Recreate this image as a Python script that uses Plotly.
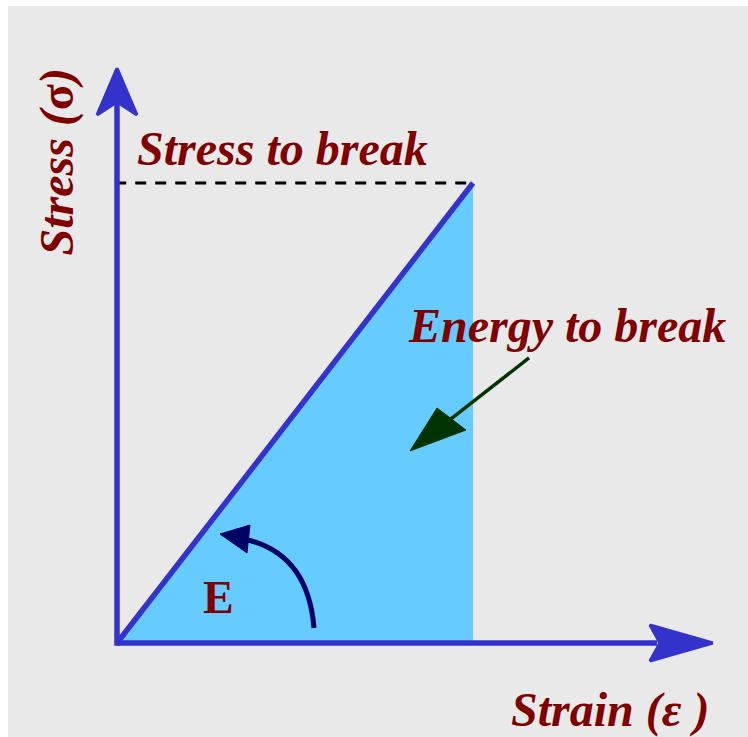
import plotly.graph_objects as go

# ---- data (normalized strain / stress units) ----
strain_break = 1.0
stress_break = 1.0
origin = [0.0, 0.0]

# axis extents
strain_axis_end = 1.497      # where x-arrow head begins
stress_axis_end = 1.148      # where y-arrow head begins
x_head_s = [1.674, 1.497, 1.525, 1.497, 1.674]
x_head_t = [0.0, 0.039, 0.0, -0.039, 0.0]
y_head_s = [0.0, 0.056, 0.0, -0.056, 0.0]
y_head_t = [1.25, 1.148, 1.176, 1.148, 1.25]

# triangle "energy to break"
fill_s = [0.0, strain_break, strain_break, 0.0]
fill_t = [0.0, stress_break, 0.0, 0.0]

# modulus arc arrow
arc_path = "M 0.5534,0.0326 Q 0.5365,0.1913 0.3680,0.2239"
arc_head_s = [0.2893, 0.3736, 0.3652, 0.2893]
arc_head_t = [0.2370, 0.2565, 0.1957, 0.2370]

# energy pointer arrow
ptr_line_s = [1.1573, 0.9382]
ptr_line_t = [0.6196, 0.4870]
ptr_head_s = [0.8230, 0.8989, 0.9803, 0.8230]
ptr_head_t = [0.4174, 0.5109, 0.4630, 0.4174]

labels = {
    "stress_break": ("Stress to break", 0.4635, 1.076),
    "energy": ("Energy to break", 1.264, 0.691),
    "strain_axis": ("Strain (ε )", 1.385, -0.1457),
}

BLUE = "#3333cc"
RED = "#800000"
FONT = "Liberation Serif"

fig = go.Figure()

fig.add_trace(go.Scatter(x=fill_s, y=fill_t, fill="toself", fillcolor="#66ccff",
                         line=dict(width=0), mode="lines", hoverinfo="skip"))
fig.add_trace(go.Scatter(x=[-0.005, strain_break], y=[stress_break, stress_break], mode="lines",
                         line=dict(color="black", width=3, dash="11px,9px"), hoverinfo="skip"))
fig.add_trace(go.Scatter(x=[origin[0], strain_break], y=[origin[1], stress_break], mode="lines",
                         line=dict(color=BLUE, width=5.5), hoverinfo="skip"))
# axes
fig.add_trace(go.Scatter(x=[origin[0], strain_axis_end + 0.02], y=[0, 0], mode="lines",
                         line=dict(color=BLUE, width=5.5), hoverinfo="skip"))
fig.add_trace(go.Scatter(x=[0, 0], y=[origin[1] - 0.006, stress_axis_end + 0.03], mode="lines",
                         line=dict(color=BLUE, width=5.5), hoverinfo="skip"))
fig.add_trace(go.Scatter(x=x_head_s, y=x_head_t, fill="toself", fillcolor=BLUE, mode="lines",
                         line=dict(color=BLUE, width=3), hoverinfo="skip"))
fig.add_trace(go.Scatter(x=y_head_s, y=y_head_t, fill="toself", fillcolor=BLUE, mode="lines",
                         line=dict(color=BLUE, width=3), hoverinfo="skip"))
# modulus arc arrow head
fig.add_trace(go.Scatter(x=arc_head_s, y=arc_head_t, fill="toself", fillcolor="#000066", mode="lines",
                         line=dict(color="#000066", width=1), hoverinfo="skip"))
# energy pointer
fig.add_trace(go.Scatter(x=ptr_line_s, y=ptr_line_t, mode="lines",
                         line=dict(color="#003300", width=3.5), hoverinfo="skip"))
fig.add_trace(go.Scatter(x=ptr_head_s, y=ptr_head_t, fill="toself", fillcolor="#003300", mode="lines",
                         line=dict(color="#003300", width=1), hoverinfo="skip"))

fig.add_shape(type="path", path=arc_path, xref="x", yref="y",
              line=dict(color="#000066", width=5))

tfont = dict(family=FONT, size=48, color=RED, weight="bold", style="italic")
for key, (txt, sx, ty) in labels.items():
    fig.add_annotation(x=sx, y=ty, text=txt, showarrow=False, font=tfont,
                       xanchor="center", yanchor="middle")
fig.add_annotation(x=-0.168, y=1.045, text="Stress (<span style='font-style:normal'>σ</span>)",
                   showarrow=False, font=tfont,
                   textangle=-90, xanchor="center", yanchor="middle")
fig.add_annotation(x=0.2837, y=0.10, text="E", showarrow=False,
                   font=dict(family=FONT, size=46, color=RED, weight="bold"),
                   xanchor="center", yanchor="middle")

fig.update_layout(
    width=748, height=737,
    margin=dict(l=8, t=6, r=0, b=0),
    paper_bgcolor="white", plot_bgcolor="#e9e9e9",
    showlegend=False,
    xaxis=dict(range=[-0.30618, 1.77247], visible=False, fixedrange=True),
    yaxis=dict(range=[-0.20435, 1.38478], visible=False, fixedrange=True),
)

fig.write_html("out.html", config={"displayModeBar": False},
               post_script="document.body.style.margin='0px';document.body.style.overflow='hidden';")
